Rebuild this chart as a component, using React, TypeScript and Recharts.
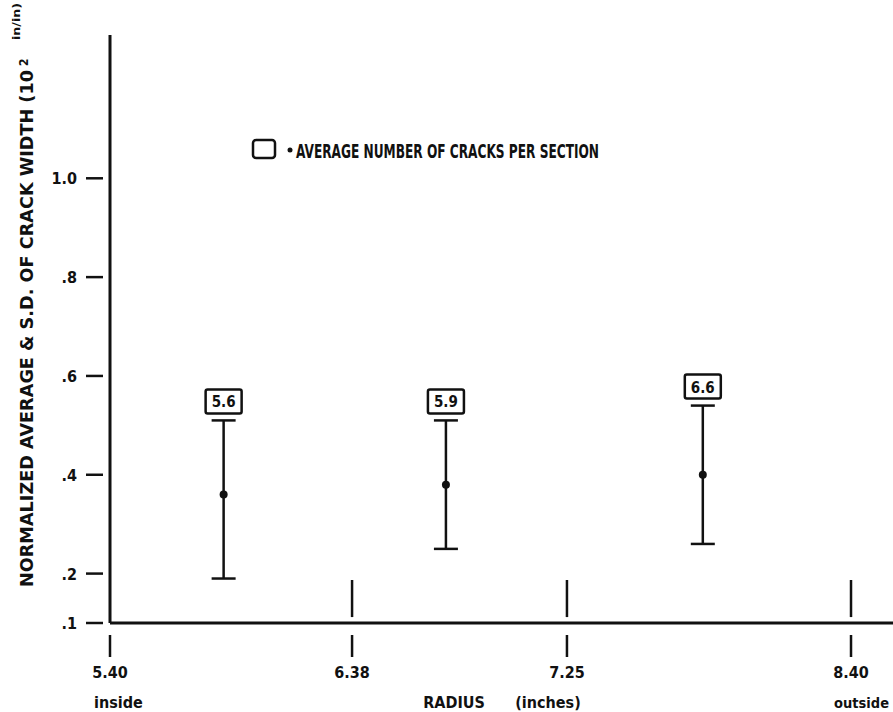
import React from "react";
import { ScatterChart, Scatter, XAxis, YAxis, ErrorBar, ReferenceLine } from "recharts";

// values
const radiusPositions = [5.86, 6.76, 7.8];
const meanWidth = [0.36, 0.38, 0.4];
const upperSD = [0.51, 0.51, 0.54];
const lowerSD = [0.19, 0.25, 0.26];
const crackCounts = ["5.6", "5.9", "6.6"];

const xTicks = [5.4, 6.38, 7.25, 8.4];
const xTickLabels = ["5.40", "6.38", "7.25", "8.40"];
const xSubLabels = ["inside", "", "", "outside"];
const yTicks = [0.1, 0.2, 0.4, 0.6, 0.8, 1.0];
const yTickLabels = [".1", ".2", ".4", ".6", ".8", "1.0"];

// section boundary marks standing on the x axis
const sectionBounds = [6.38, 7.25, 8.4];
const boundLow = 0.112;
const boundHigh = 0.187;

const FONT = "'DejaVu Sans Condensed', 'Liberation Sans Narrow', 'DejaVu Sans', sans-serif";
const INK = "#111";
const PLOT_LEFT = 110;
const PLOT_BOTTOM = 623;

const meanData = radiusPositions.map((x, i) => ({
  x,
  y: meanWidth[i],
  err: [meanWidth[i] - lowerSD[i], upperSD[i] - meanWidth[i]],
}));
const countData = radiusPositions.map((x, i) => ({ x, y: upperSD[i], count: crackCounts[i] }));

function XTick(props: any) {
  const { x, payload } = props;
  const i = xTicks.indexOf(payload.value);
  const last = i === xTicks.length - 1;
  return (
    <g>
      <line x1={x} x2={x} y1={PLOT_BOTTOM + 12} y2={PLOT_BOTTOM + 34} stroke={INK} strokeWidth={2.5} />
      <text x={x} y={678} textAnchor="middle" fontFamily={FONT} fontWeight="bold" fontSize={16} fill={INK}>
        {xTickLabels[i]}
      </text>
      {xSubLabels[i] && (
        <text
          x={last ? x + 38 : x - 16}
          y={708}
          textAnchor={last ? "end" : "start"}
          fontFamily={FONT}
          fontWeight="bold"
          fontSize={last ? 14.5 : 16}
          fill={INK}
        >
          {xSubLabels[i]}
        </text>
      )}
    </g>
  );
}

function YTick(props: any) {
  const { y, payload } = props;
  const i = yTicks.indexOf(payload.value);
  return (
    <g>
      <line x1={PLOT_LEFT - 24} x2={PLOT_LEFT - 7} y1={y} y2={y} stroke={INK} strokeWidth={2.5} />
      <text x={PLOT_LEFT - 33} y={y + 6} textAnchor="end" fontFamily={FONT} fontWeight="bold" fontSize={16} fill={INK}>
        {yTickLabels[i]}
      </text>
    </g>
  );
}

function Dot(props: any) {
  return <circle cx={props.cx} cy={props.cy} r={4} fill={INK} />;
}

function CountBox(props: any) {
  const { cx, cy, payload } = props;
  return (
    <g>
      <rect x={cx - 18} y={cy - 31} width={36} height={24} rx={2} fill="#fff" stroke={INK} strokeWidth={2.5} />
      <text x={cx} y={cy - 13} textAnchor="middle" fontFamily={FONT} fontWeight="bold" fontSize={15} fill={INK}>
        {payload.count}
      </text>
    </g>
  );
}

// y title plus the box key (drawn here so it takes no room from the plot)
function YTitle() {
  return (
    <g fontFamily={FONT} fontWeight="bold" fill={INK}>
      <g transform="translate(33,587) rotate(-90)">
        <text x={0} y={0} fontSize={18} textLength={517} lengthAdjust="spacingAndGlyphs">
          NORMALIZED AVERAGE &amp; S.D. OF CRACK WIDTH (10
        </text>
        <text x={521} y={-5} fontSize={12}>2</text>
        <text x={547} y={-13} fontSize={10} textLength={37} lengthAdjust="spacingAndGlyphs">in/in)</text>
      </g>
      <rect x={253} y={140} width={22} height={18} rx={3} fill="none" stroke={INK} strokeWidth={2.5} />
      <circle cx={290} cy={150} r={2.5} fill={INK} />
      <text x={296} y={158} fontSize={19} textLength={303} lengthAdjust="spacingAndGlyphs">
        AVERAGE NUMBER OF CRACKS PER SECTION
      </text>
    </g>
  );
}

function XTitle() {
  return (
    <g fontFamily={FONT} fontWeight="bold" fontSize={16} fill={INK}>
      <text x={454} y={708} textAnchor="middle">RADIUS</text>
      <text x={548} y={708} textAnchor="middle">(inches)</text>
    </g>
  );
}

export default function App() {
  return (
    <div style={{ position: "absolute", left: 0, top: 0, background: "#fff" }}>
      <ScatterChart width={893} height={712} margin={{ top: 35, right: 0, bottom: 0, left: 0 }}>
        <XAxis
          dataKey="x"
          type="number"
          domain={[5.4, 8.57]}
          ticks={xTicks}
          allowDataOverflow
          height={89}
          axisLine={{ stroke: INK, strokeWidth: 3 }}
          tickLine={false}
          tick={<XTick />}
          label={<XTitle />}
        />
        <YAxis
          dataKey="y"
          type="number"
          domain={[0.1, 1.29]}
          ticks={yTicks}
          allowDataOverflow
          width={110}
          axisLine={{ stroke: INK, strokeWidth: 3 }}
          tickLine={false}
          tick={<YTick />}
          label={<YTitle />}
        />
        {sectionBounds.map((b) => (
          <ReferenceLine
            key={b}
            segment={[
              { x: b, y: boundLow },
              { x: b, y: boundHigh },
            ]}
            stroke={INK}
            strokeWidth={2.5}
          />
        ))}
        <Scatter data={meanData} fill={INK} shape={<Dot />} isAnimationActive={false}>
          <ErrorBar dataKey="err" direction="y" width={12} stroke={INK} strokeWidth={2.5} isAnimationActive={false} />
        </Scatter>
        <Scatter data={countData} shape={<CountBox />} isAnimationActive={false} />
      </ScatterChart>
    </div>
  );
}
